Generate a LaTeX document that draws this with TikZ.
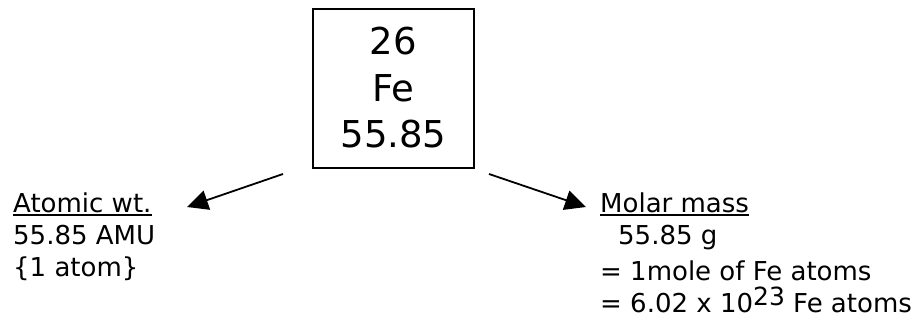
\documentclass[tikz,border=0pt]{standalone}
\usepackage{fontspec}
\setmainfont{DejaVu Sans}
\usetikzlibrary{arrows.meta}
\begin{document}
\begin{tikzpicture}[x=1pt,y=1pt,
  lbl/.style={anchor=base west,inner sep=0pt,font=\fontsize{26}{30}\selectfont},
  big/.style={anchor=base,inner sep=0pt,font=\fontsize{37}{40}\selectfont},
  arr/.style={line width=1.8pt,-{Triangle[length=21pt,width=20pt]}}]
\useasboundingbox (0,0) rectangle (922,328);
\node[draw,line width=1.8pt,minimum width=161pt,minimum height=159pt,inner sep=0pt] (box) at (393.5,239.5) {};
\node[big] (z) at (393.5,273) {26};
\node[big] (sym) at (393.5,226) {Fe};
\node[big] (m) at (393.5,180) {55.85};
% left
\node[lbl] (aw) at (13,115.5) {Atomic wt.};
\draw[line width=1.4pt] ([yshift=-2.5pt]aw.base west) -- ([yshift=-2.5pt]aw.base east);
\node[lbl] (amu) at (13,83) {55.85 AMU};
\node[lbl] (one) at (13,51) {\{1 atom\}};
% right
\node[lbl] (mm) at (600,115.5) {Molar mass};
\draw[line width=1.4pt] ([yshift=-2.5pt]mm.base west) -- ([yshift=-2.5pt]mm.base east);
\node[lbl] (g) at (618,83.5) {55.85 g};
\node[lbl] (mole) at (600,47.5) {= 1mole of Fe atoms};
\node[lbl] (avo) at (600,15.5) {= 6.02 x 10\raisebox{7pt}{\fontsize{25}{28}\selectfont 23} Fe atoms};
% arrows
\coordinate (ls) at (283,154);
\coordinate (le) at (187,121);
\coordinate (rs) at (489,154);
\coordinate (re) at (586,121);
\draw[arr] (ls) -- (le);
\draw[arr] (rs) -- (re);
\end{tikzpicture}
\end{document}
